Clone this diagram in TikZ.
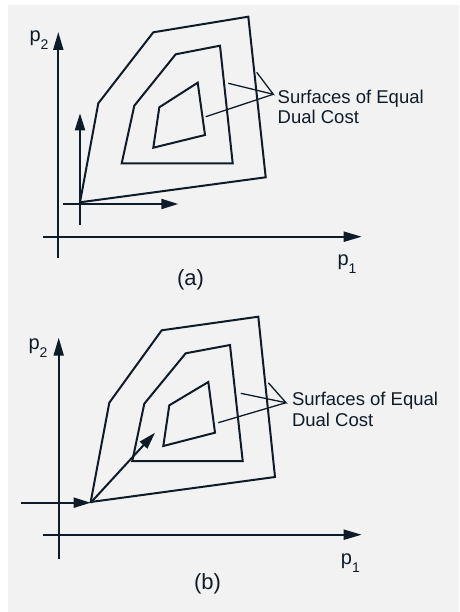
\documentclass[tikz,border=0pt]{standalone}
\usepackage{fontspec}
\setmainfont{Liberation Sans}
\usepackage{tikz}
\usetikzlibrary{arrows.meta}
\definecolor{ink}{HTML}{0E1C2A}
\definecolor{paper}{HTML}{F2F2F2}
\tikzset{
  axisline/.style={ink, line width=2pt, -{Triangle[length=18pt,width=10pt]}},
  moveline/.style={ink, line width=2pt, -{Triangle[length=17pt,width=10pt]}},
  surfline/.style={ink, line width=2pt, line join=miter},
  leadline/.style={ink, line width=1.3pt},
  axislabel/.style={font=\fontsize{20}{22}\selectfont, text=ink, inner sep=0pt, anchor=base west},
  surflabel/.style={font=\fontsize{18.5}{20.8}\selectfont, text=ink, align=left, inner sep=0pt, anchor=north west},
  panellabel/.style={font=\fontsize{22}{24}\selectfont, text=ink, inner sep=0pt, anchor=base},
}
\newcommand{\psub}[1]{p\raisebox{-8pt}{\fontsize{14}{14}\selectfont #1}}

\begin{document}
\begin{tikzpicture}[x=1pt,y=-1pt]
  \useasboundingbox (0,0) rectangle (459,612);
  \fill[paper] (8,5) rectangle (459,612);
  % (a) axes
  \coordinate (ax0) at (43.3,236.7);
  \coordinate (ax1) at (361.7,236.7);
  \coordinate (ay0) at (58.3,258);
  \coordinate (ay1) at (58.3,32);
  \draw[axisline] (ax0) -- (ax1);
  \draw[axisline] (ay0) -- (ay1);
  \node[axislabel] (ap2) at (29.3,41.7) {\psub{2}};
  \node[axislabel] (ap1) at (337.3,265.7) {\psub{1}};
  \node[panellabel] (acap) at (190.5,285) {(a)};
  % (a) surfaces of equal dual cost
  \draw[surfline] (80,202.3) -- (98.3,103.3) -- (153.3,32.3) -- (248.3,16.7) -- (265.7,177.3) -- cycle;
  \draw[surfline] (121.7,163.3) -- (134.3,105.7) -- (175.7,54.3) -- (220,45.7) -- (232.7,163.3) -- cycle;
  \draw[surfline] (153.3,147.7) -- (159.3,107.3) -- (197.7,82.7) -- (205,135) -- cycle;
  % (a) coordinate moves
  \coordinate (aorg) at (80,204);
  \coordinate (avb) at (80,225);
  \coordinate (avt) at (80,113.3);
  \coordinate (ahl) at (62.7,204);
  \coordinate (ahr) at (178.3,204);
  \draw[moveline] (avb) -- (avt);
  \draw[moveline] (ahl) -- (ahr);
  % (a) leaders
  \coordinate (ameet) at (273.3,94.3);
  \coordinate (aout) at (256.7,72.3);
  \coordinate (amid) at (228.3,83.3);
  \coordinate (ain) at (205.7,116.7);
  \draw[leadline] (aout) -- (ameet) -- (amid);
  \draw[leadline] (ain) -- (ameet);
  \node[surflabel] (alab) at (277.5,89.4) {Surfaces of Equal\\Dual Cost};

  % (b) axes
  \coordinate (bx0) at (43.3,534.7);
  \coordinate (bx1) at (361.7,534.7);
  \coordinate (by0) at (58.7,559.3);
  \coordinate (by1) at (58.7,337.7);
  \draw[axisline] (bx0) -- (bx1);
  \draw[axisline] (by0) -- (by1);
  \node[axislabel] (bp2) at (28.3,349.3) {\psub{2}};
  \node[axislabel] (bp1) at (340.7,564.3) {\psub{1}};
  \node[panellabel] (bcap) at (207.5,589.3) {(b)};
  % (b) surfaces of equal dual cost
  \draw[surfline] (90.7,502) -- (109.3,402.7) -- (161.7,330.3) -- (258.3,316.7) -- (275,477) -- cycle;
  \draw[surfline] (132.3,461) -- (144.3,403.7) -- (185.7,353.3) -- (230,345) -- (242.7,461) -- cycle;
  \draw[surfline] (163.3,446) -- (169.3,405.3) -- (208.3,382) -- (215,432.7) -- cycle;
  % (b) coordinate moves
  \coordinate (borg) at (90.7,502.7);
  \coordinate (bhl) at (21,502.7);
  \coordinate (bdt) at (155,432.7);
  \draw[moveline] (bhl) -- (borg);
  \draw[moveline] (borg) -- (bdt);
  % (b) leaders
  \coordinate (bmeet) at (286,402.7);
  \coordinate (bout) at (268.3,382.7);
  \coordinate (bmid) at (240.7,393.3);
  \coordinate (bin) at (218.3,422.7);
  \draw[leadline] (bout) -- (bmeet) -- (bmid);
  \draw[leadline] (bin) -- (bmeet);
  \node[surflabel] (blab) at (291.8,391.6) {Surfaces of Equal\\Dual Cost};
\end{tikzpicture}
\end{document}
